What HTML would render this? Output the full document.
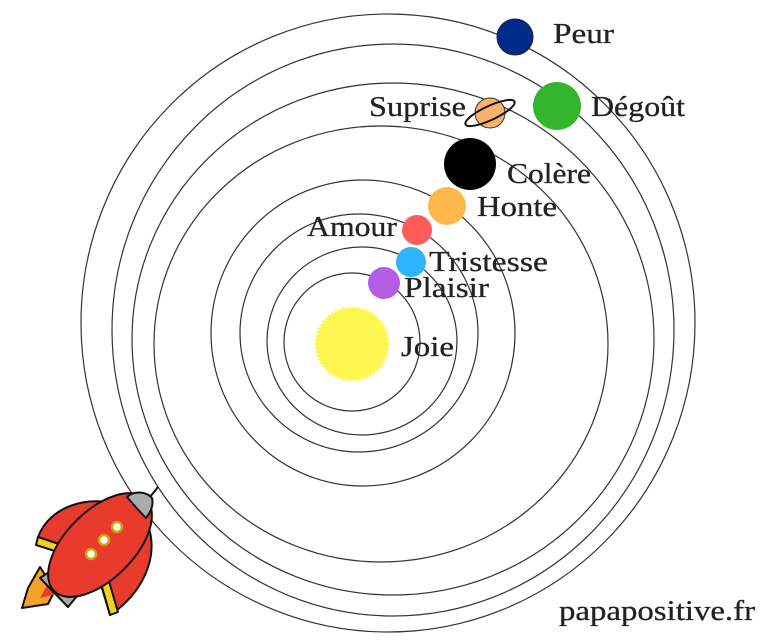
<!DOCTYPE html>
<html><head><meta charset="utf-8"><style>
html,body{margin:0;padding:0;background:#fff;width:768px;height:644px;overflow:hidden}
svg text{font-family:"Liberation Serif",serif;font-size:29px;fill:#222;stroke:#222;stroke-width:0.3}
</style></head><body>
<svg width="768" height="644" viewBox="0 0 768 644" xmlns="http://www.w3.org/2000/svg">
<g fill="none" stroke="#333" stroke-width="1.2">
<ellipse cx="388" cy="323" rx="307" ry="309"/>
<ellipse cx="393" cy="330" rx="281" ry="286"/>
<ellipse cx="393" cy="339" rx="261" ry="256"/>
<ellipse cx="381" cy="344" rx="227" ry="218"/>
<ellipse cx="363" cy="333" rx="152" ry="153"/>
<ellipse cx="359" cy="333" rx="119" ry="119"/>
<ellipse cx="362" cy="341" rx="95" ry="94"/>
<ellipse cx="352" cy="342" rx="68" ry="69"/>
</g>
<circle cx="352" cy="344" r="36" fill="#fff64f" stroke="#fff64f" stroke-width="3" stroke-dasharray="2 2"/>
<circle cx="515" cy="37" r="18" fill="#002b8a" stroke="#222" stroke-width="1"/>
<circle cx="557" cy="106" r="24" fill="#33b52c"/>
<circle cx="490" cy="113" r="15" fill="#f9b26b" stroke="#333" stroke-width="1"/>
<ellipse cx="490" cy="113" rx="27" ry="7" transform="rotate(-25 490 113)" fill="none" stroke="#111" stroke-width="2"/>
<circle cx="470" cy="164" r="26" fill="#000"/>
<circle cx="447" cy="206" r="19" fill="#fdb84a"/>
<circle cx="417" cy="230" r="15" fill="#ff5b5b"/>
<circle cx="411" cy="262" r="15" fill="#2db3ff"/>
<circle cx="384" cy="283" r="16" fill="#b35de6"/>
<text x="553" y="43" textLength="61" lengthAdjust="spacingAndGlyphs">Peur</text>
<text x="591" y="116" textLength="94" lengthAdjust="spacingAndGlyphs">Dégoût</text>
<text x="369" y="116" textLength="97" lengthAdjust="spacingAndGlyphs">Suprise</text>
<text x="507" y="183" textLength="84" lengthAdjust="spacingAndGlyphs">Colère</text>
<text x="477" y="216" textLength="80" lengthAdjust="spacingAndGlyphs">Honte</text>
<text x="307" y="236" textLength="90" lengthAdjust="spacingAndGlyphs">Amour</text>
<text x="429" y="271" textLength="119" lengthAdjust="spacingAndGlyphs">Tristesse</text>
<text x="404" y="297" textLength="85" lengthAdjust="spacingAndGlyphs">Plaisir</text>
<text x="401" y="356" textLength="53" lengthAdjust="spacingAndGlyphs">Joie</text>
<text x="559" y="620" textLength="196" lengthAdjust="spacingAndGlyphs">papapositive.fr</text>
<g stroke="#111" stroke-width="2" stroke-linejoin="round">
<path d="M38 537 C50 505 90 495 120 505 L80 560 Z" fill="#e83b2e"/>
<path d="M38 537 L62 545 L58 552 L36 545 Z" fill="#f2d21e"/>
<path d="M148 525 C160 560 140 595 110 615 L95 565 Z" fill="#e83b2e"/>
<path d="M100 580 L110 615 L118 612 L108 578 Z" fill="#f2d21e"/>
<path d="M40 567 L55 590 L48 604 L22 608 L28 588 Z" fill="#f7a12a"/>
<path d="M50 580 L56 594 L40 598 Z" fill="#e83b2e" stroke="none"/>
<path d="M40 578 L60 565 L82 590 L68 607 Z" fill="#aaa"/>
<ellipse cx="100" cy="545" rx="65" ry="34" transform="rotate(-45 100 545)" fill="#e83b2e"/>
<path d="M127 497 C135 490 147 492 152 498 C154 506 150 513 146 518 C140 512 132 503 127 497 Z" fill="#aaa"/>
<path d="M150 497 L158 487" fill="none"/>
<circle cx="117" cy="527" r="5" fill="#fff" stroke="#c9a800" stroke-width="2.5"/>
<circle cx="104" cy="540" r="5" fill="#fff" stroke="#c9a800" stroke-width="2.5"/>
<circle cx="91" cy="554" r="5" fill="#fff" stroke="#c9a800" stroke-width="2.5"/>
</g>
</svg>
</body></html>
